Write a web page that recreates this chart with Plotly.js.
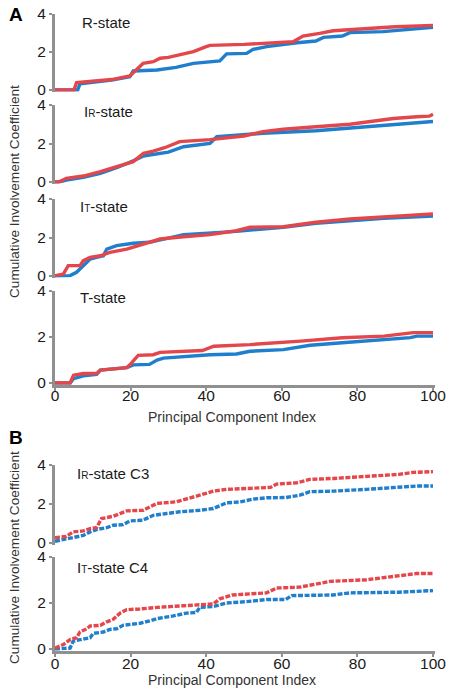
<!DOCTYPE html>
<html>
<head>
<meta charset="utf-8">
<script src="https://cdn.plot.ly/plotly-3.0.1.min.js"></script>
<style>html,body{margin:0;padding:0;background:#fff;}#chart{width:454px;height:695px;}</style>
</head>
<body>
<div id="chart"></div>
<script>
// ---------- data ----------
const panelTitles = ['R-state', 'I<span style="font-size:10px">R</span>-state', 'I<span style="font-size:10px">T</span>-state', 'T-state',
                     'I<span style="font-size:10px">R</span>-state C3', 'I<span style="font-size:10px">T</span>-state C4'];
const xTickVals = [0, 20, 40, 60, 80, 100];
const yTickVals = [0, 2, 4];

// R-state
const rRedX  = [0,5,5.7,10,15,19.8,21,23.3,26,27.8,30,33,36.6,40,41,50,56,63,65.6,68,70,73.6,82.4,90,100];
const rRedY  = [0,0,0.39,0.45,0.55,0.74,0.95,1.4,1.49,1.67,1.72,1.84,2.02,2.28,2.35,2.4,2.46,2.54,2.84,2.9,2.98,3.12,3.25,3.33,3.4];
const rBlueX = [0,6,6.6,10,15,19.8,20.7,27,32,36.6,43.6,45.4,50.7,52.4,56,64,69,71,76,78,86.8,100];
const rBlueY = [0,0,0.32,0.4,0.52,0.7,1.0,1.05,1.19,1.4,1.53,1.9,1.93,2.14,2.28,2.49,2.58,2.77,2.84,3.02,3.07,3.3];

// IR-state
const irRedX  = [0,1,3,7.5,12,16.3,20.7,23.4,26,29,33,41,46,50,55,60.4,69,73.6,78,83,89.5,95.7,99,100];
const irRedY  = [0,0,0.19,0.31,0.54,0.8,1.06,1.49,1.6,1.78,2.1,2.2,2.32,2.39,2.62,2.74,2.87,2.92,3.0,3.13,3.3,3.39,3.42,3.52];
const irBlueX = [0,1,3,7.5,12,16.3,20.7,23.4,25,30,34,41,42.8,55,69,78,87,100];
const irBlueY = [0,0,0.1,0.24,0.45,0.74,1.1,1.35,1.4,1.55,1.83,2.0,2.35,2.53,2.66,2.79,2.96,3.14];

// IT-state
const itRedX  = [0,2.2,3.5,6.6,7.5,9.3,12,14.5,19,23.4,27.8,34,41,48,51.6,60.4,69,78,87,100];
const itRedY  = [0.02,0.1,0.54,0.54,0.8,0.97,1.05,1.23,1.4,1.66,1.92,2.04,2.15,2.35,2.53,2.56,2.79,2.96,3.08,3.22];
const itBlueX = [0,4,5.7,7.5,9.3,11,12.8,13.7,16.3,20.7,25,34,41,48,60.4,69,78,87,100];
const itBlueY = [0,0.02,0.19,0.54,0.88,0.97,1.05,1.4,1.58,1.7,1.75,2.15,2.22,2.32,2.53,2.74,2.87,3.0,3.12];

// T-state
const tRedX  = [0,4,4.9,7.5,11,12,19,19.8,22,26,27.8,39,42,51.6,65,76,87,94.8,100];
const tRedY  = [0,0,0.34,0.41,0.41,0.56,0.67,0.79,1.2,1.23,1.33,1.41,1.6,1.67,1.82,1.97,2.04,2.19,2.19];
const tBlueX = [0,4,4.9,7.5,11,12,19,20.7,25,27,28.7,34,41,48,51.6,60.4,64,67.5,76,87,94,95.7,100];
const tBlueY = [0,0,0.19,0.31,0.37,0.56,0.67,0.79,0.81,1.0,1.08,1.16,1.23,1.26,1.38,1.45,1.53,1.64,1.75,1.9,1.97,2.04,2.04];

// IR-state C3
const c3RedX  = [0,3,4.8,7.5,9.3,11,12.3,15.4,17.2,19,23.3,25,27,32,34.8,38.3,41.9,45.4,57,58.6,64,67.4,73.6,82.4,91,94.7,100];
const c3RedY  = [0.27,0.34,0.57,0.62,0.74,0.79,1.25,1.37,1.51,1.65,1.68,1.82,2.03,2.11,2.28,2.45,2.66,2.75,2.85,3.02,3.09,3.26,3.31,3.4,3.52,3.62,3.66];
const c3BlueX = [0,3,7.5,9.3,11,13.7,15.4,18,19.8,23.3,26,29.5,33,38.3,41.9,45.4,49,52.4,56,61,64.8,67.4,73.6,82.4,91,95.6,100];
const c3BlueY = [0.09,0.22,0.39,0.57,0.69,0.79,0.91,0.94,1.13,1.17,1.42,1.51,1.6,1.68,1.77,2.06,2.11,2.25,2.32,2.33,2.45,2.63,2.66,2.75,2.85,2.92,2.92];

// IT-state C4
const c4RedX  = [0,2.2,4,5.7,6.6,8.4,9.3,12,13.7,15.4,17.2,19,22.5,27,34,38.3,41.9,43.6,47,56,58.6,64.8,69,72.7,82.4,91,95.6,100];
const c4RedY  = [0.04,0.19,0.41,0.49,0.74,0.88,1.0,1.03,1.18,1.29,1.56,1.71,1.74,1.81,1.88,1.93,1.96,2.18,2.35,2.44,2.65,2.69,2.84,2.94,3.01,3.18,3.28,3.28];
const c4BlueX = [0,4,4.8,7.5,9.3,10.1,12.8,14.5,16.3,18,22.5,25,27,31.3,34.8,37.4,38.3,41.9,45.4,50.7,56,61,62.6,73.6,78,91,100];
const c4BlueY = [0,0.04,0.34,0.44,0.49,0.68,0.74,0.85,0.88,1.03,1.12,1.22,1.32,1.44,1.56,1.59,1.81,1.85,2.0,2.06,2.15,2.15,2.32,2.35,2.44,2.47,2.54];

// ---------- styling / layout ----------
const W = 454, H = 695;
const RED = '#e4474b', BLUE = '#1f7fcc', AXIS = '#909090', TXT = '#1a1a1a';
const FONT = 'Liberation Sans, Arial, Helvetica, sans-serif';
const yMin = -0.08, yMax = 4;
// pixel rows of value 0 and value 4 for each subplot
const rowPx = [[90,14],[182,105],[276,199],[383,291],[543,465],[649,557]];
const xLeftPx = 55, pxPerUnit = 3.78, xMax = 100.5;

const series = [
  [rBlueX, rBlueY, rRedX, rRedY],
  [irBlueX, irBlueY, irRedX, irRedY],
  [itBlueX, itBlueY, itRedX, itRedY],
  [tBlueX, tBlueY, tRedX, tRedY],
  [c3BlueX, c3BlueY, c3RedX, c3RedY],
  [c4BlueX, c4BlueY, c4RedX, c4RedY]
];

const traces = [];
series.forEach((s, i) => {
  const panelB = i >= 4;
  const xa = panelB ? 'x2' : 'x';
  const ya = 'y' + (i === 0 ? '' : (i + 1));
  const dash = panelB ? '5px,1.6px' : 'solid';
  traces.push({x: s[0], y: s[1], xaxis: xa, yaxis: ya, mode: 'lines', type: 'scatter',
               line: {color: BLUE, width: 3.4, dash: dash}, hoverinfo: 'skip'});
  traces.push({x: s[2], y: s[3], xaxis: xa, yaxis: ya, mode: 'lines', type: 'scatter',
               line: {color: RED, width: 3.4, dash: dash}, hoverinfo: 'skip'});
});

const layout = {
  width: W, height: H,
  margin: {l: 0, r: 0, t: 0, b: 0, pad: 0},
  paper_bgcolor: '#fff', plot_bgcolor: 'rgba(0,0,0,0)',
  showlegend: false,
  font: {family: FONT, color: TXT, size: 14},
  annotations: [],
};

const xDomain = [xLeftPx / W, (xLeftPx + xMax * pxPerUnit) / W];
function xAxisDef(anchor, standoff) {
  return {
    domain: xDomain, range: [0, xMax], anchor: anchor,
    tickvals: xTickVals, ticks: 'outside', ticklen: 3, tickwidth: 2, tickcolor: AXIS,
    ticklabelstandoff: standoff,
    showline: true, linecolor: AXIS, linewidth: 3, showgrid: false, zeroline: false,
    tickfont: {family: FONT, size: 15.5, color: TXT}
  };
}
layout.xaxis = xAxisDef('y4', -8);
layout.xaxis2 = xAxisDef('y6', -6);

rowPx.forEach((r, i) => {
  const ppu = (r[0] - r[1]) / 4;
  const bottomPx = r[0] - yMin * ppu;
  const key = 'yaxis' + (i === 0 ? '' : (i + 1));
  layout[key] = {
    domain: [1 - bottomPx / H, 1 - r[1] / H], range: [yMin, yMax],
    anchor: i >= 4 ? 'x2' : 'x',
    tickvals: yTickVals, ticks: 'outside', ticklen: 3, tickwidth: 2, tickcolor: AXIS,
    showline: true, linecolor: AXIS, linewidth: 3, showgrid: false, zeroline: false,
    tickfont: {family: FONT, size: 15.5, color: TXT}
  };
});

// panel titles
const titlePx = [[80,23],[82,112],[78,206],[78,298],[75,473],[75,567]];
titlePx.forEach((p, i) => {
  layout.annotations.push({text: panelTitles[i], xref: 'paper', yref: 'paper',
    x: p[0] / W, y: 1 - p[1] / H, xanchor: 'left', yanchor: 'middle', showarrow: false,
    font: {family: FONT, size: 15, color: TXT}});
});
// x titles
[[232,416.5],[232,679.5]].forEach(p => {
  layout.annotations.push({text: 'Principal Component Index', xref: 'paper', yref: 'paper',
    x: p[0] / W, y: 1 - p[1] / H, xanchor: 'center', yanchor: 'middle', showarrow: false,
    font: {family: FONT, size: 14, color: '#333'}});
});
// y titles
[[14,192],[14,558]].forEach(p => {
  layout.annotations.push({text: 'Cumulative Involvement Coefficient', xref: 'paper', yref: 'paper',
    x: p[0] / W, y: 1 - p[1] / H, xanchor: 'center', yanchor: 'middle', textangle: -90, showarrow: false,
    font: {family: FONT, size: 13.6, color: '#333'}});
});
// panel letters
[['A',7,15],['B',7,437]].forEach(p => {
  layout.annotations.push({text: '<b>' + p[0] + '</b>', xref: 'paper', yref: 'paper',
    x: p[1] / W, y: 1 - p[2] / H, xanchor: 'left', yanchor: 'middle', showarrow: false,
    font: {family: FONT, size: 19, color: '#000'}});
});

Plotly.newPlot('chart', traces, layout, {staticPlot: true, displayModeBar: false});
</script>
</body>
</html>
